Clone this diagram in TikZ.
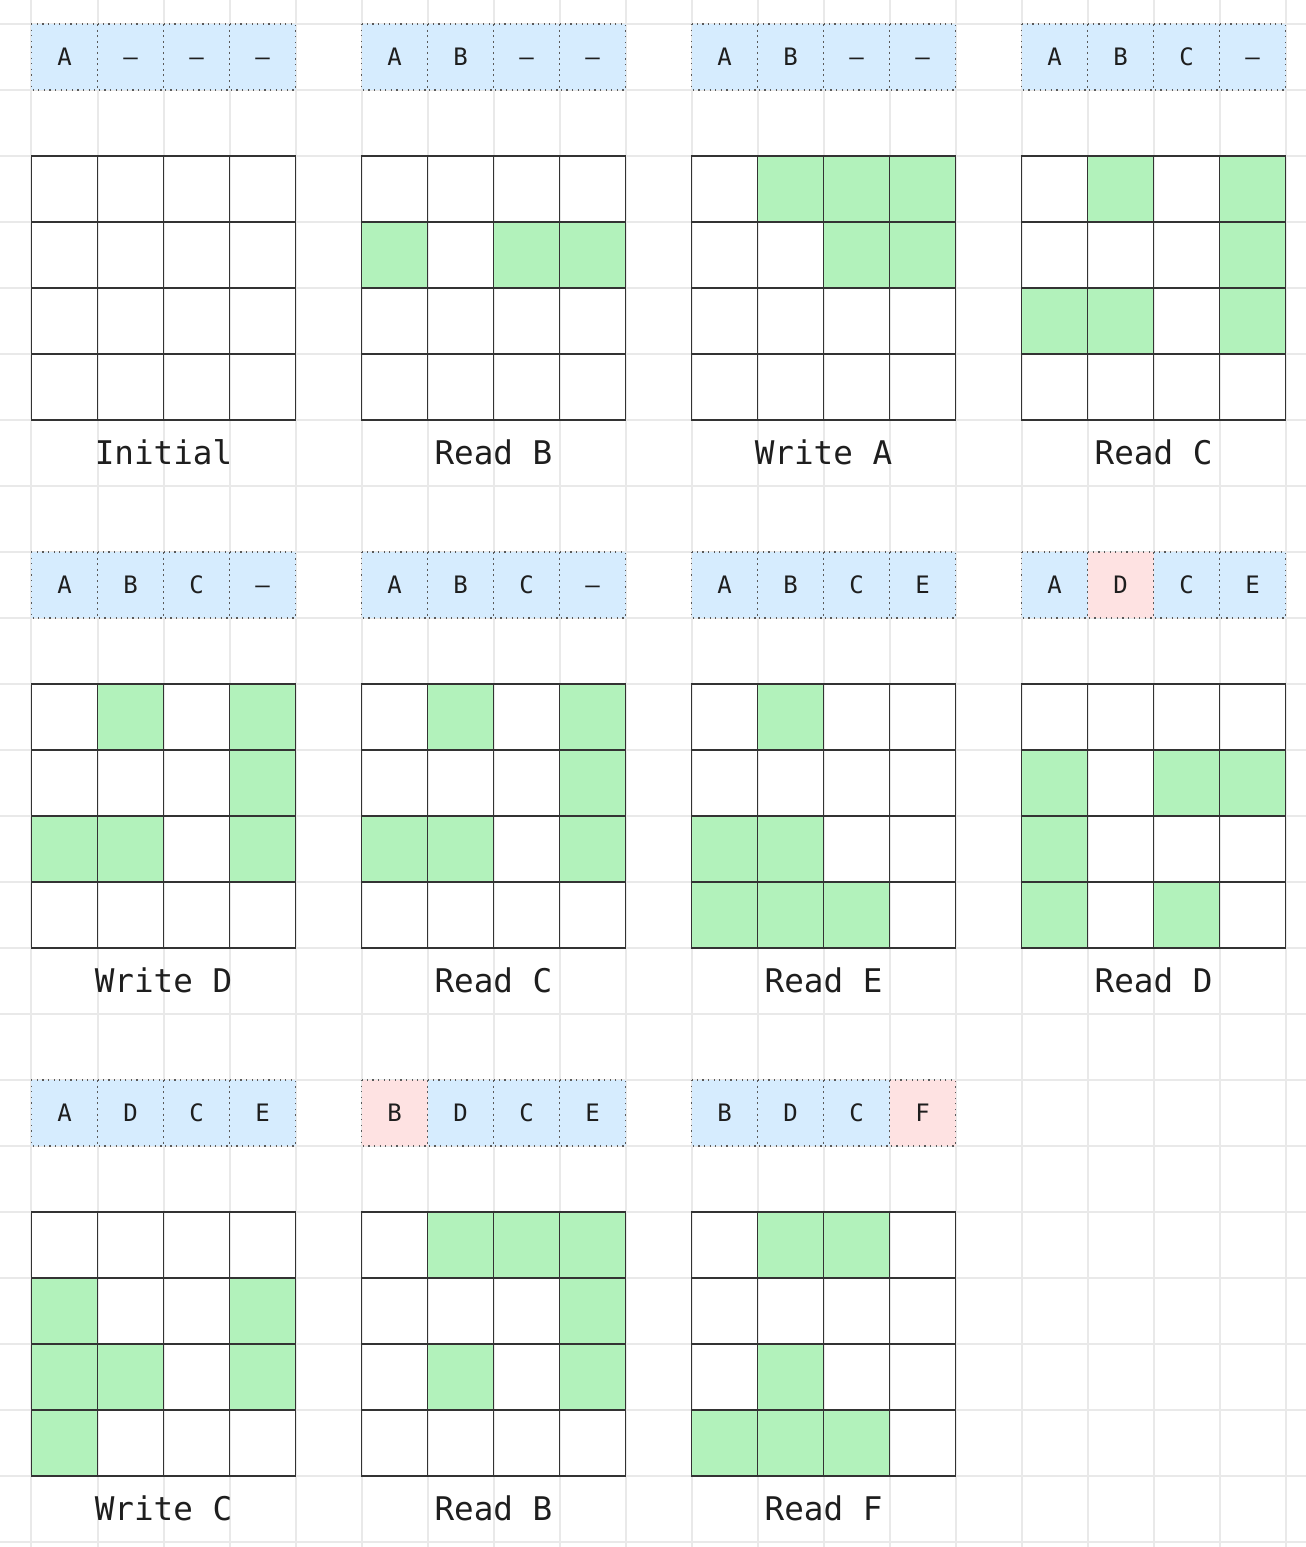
\documentclass[tikz,border=0pt]{standalone}
\usepackage{fontspec}
\setmonofont{DejaVu Sans Mono}
\definecolor{bgline}{HTML}{E9E9E9}
\definecolor{cellgreen}{HTML}{B2F2BB}
\definecolor{cacheblue}{HTML}{D6ECFE}
\definecolor{cachered}{HTML}{FEE2E2}
\definecolor{gridline}{HTML}{333333}
\definecolor{dotline}{HTML}{5A5A5A}
\definecolor{txt}{HTML}{1E1E1E}
\tikzset{
  bgstroke/.style={draw=bgline, line width=1pt},
  gridstroke/.style={draw=gridline, line width=0.8pt, line cap=rect},
  cachecell/.style={draw=dotline, line width=0.6pt, dash pattern=on 0.6pt off 2.2pt},
  b/.style={fill=cacheblue},
  r/.style={fill=cachered},
  cachetext/.style={font=\fontsize{12pt}{14pt}\ttfamily, text=txt, anchor=base, inner sep=0pt},
  labeltext/.style={font=\fontsize{16.3pt}{19pt}\ttfamily, text=txt, anchor=base, inner sep=0pt},
}
% #1 col, #2 row, #3 id, #4 label, #5 cache list letter/style
\newcommand\drawpanel[5]{%
  \pgfmathsetmacro\pX{5*#1}%
  \pgfmathsetmacro\pY{8*#2}%
  \foreach \k in {0,...,4}{
    \draw[gridstroke] (\pX+\k,\pY+2) -- (\pX+\k,\pY+6);
    \draw[gridstroke] (\pX,\pY+2+\k) -- (\pX+4,\pY+2+\k);
  }
  \foreach \ltr/\sty [count=\i from 0] in {#5}{
    \path[\sty] (\pX+\i,\pY) rectangle (\pX+\i+1,\pY+1);
    \draw[cachecell] (\pX+\i,\pY) rectangle (\pX+\i+1,\pY+1);
    \node[cachetext] (p#3c\i) at (\pX+\i+0.5,\pY+0.636) {\ltr};
  }
  \node[labeltext] (p#3label) at (\pX+2,\pY+6.68) {#4};
}
% #1 col, #2 row, #3 list c/r
\newcommand\greens[3]{%
  \pgfmathsetmacro\gX{5*#1}%
  \pgfmathsetmacro\gY{8*#2}%
  \foreach \c/\r in {#3}{
    \fill[cellgreen] (\gX+\c,\gY+2+\r) rectangle (\gX+\c+1,\gY+3+\r);
  }
}
\begin{document}
\begin{tikzpicture}[x=33pt,y=-33pt]
\useasboundingbox (-0.47727,-0.36364) rectangle (19.31061,23.07576);
\fill[white] (-0.47727,-0.36364) rectangle (19.31061,23.07576);
\foreach \k in {0,...,19}{
  \draw[bgstroke] (\k,-0.36364) -- (\k,23.07576);
}
\foreach \k in {0,...,23}{
  \draw[bgstroke] (-0.47727,\k) -- (19.31061,\k);
}
% greens
\greens{1}{0}{0/1,2/1,3/1}
\greens{2}{0}{1/0,2/0,3/0,2/1,3/1}
\greens{3}{0}{1/0,3/0,3/1,0/2,1/2,3/2}
\greens{0}{1}{1/0,3/0,3/1,0/2,1/2,3/2}
\greens{1}{1}{1/0,3/0,3/1,0/2,1/2,3/2}
\greens{2}{1}{1/0,0/2,1/2,0/3,1/3,2/3}
\greens{3}{1}{0/1,2/1,3/1,0/2,0/3,2/3}
\greens{0}{2}{0/1,3/1,0/2,1/2,3/2,0/3}
\greens{1}{2}{1/0,2/0,3/0,3/1,1/2,3/2}
\greens{2}{2}{1/0,2/0,1/2,0/3,1/3,2/3}
% panels
\drawpanel{0}{0}{a}{Initial}{A/b,–/b,–/b,–/b}
\drawpanel{1}{0}{b}{Read B}{A/b,B/b,–/b,–/b}
\drawpanel{2}{0}{c}{Write A}{A/b,B/b,–/b,–/b}
\drawpanel{3}{0}{d}{Read C}{A/b,B/b,C/b,–/b}
\drawpanel{0}{1}{e}{Write D}{A/b,B/b,C/b,–/b}
\drawpanel{1}{1}{f}{Read C}{A/b,B/b,C/b,–/b}
\drawpanel{2}{1}{g}{Read E}{A/b,B/b,C/b,E/b}
\drawpanel{3}{1}{h}{Read D}{A/b,D/r,C/b,E/b}
\drawpanel{0}{2}{i}{Write C}{A/b,D/b,C/b,E/b}
\drawpanel{1}{2}{j}{Read B}{B/r,D/b,C/b,E/b}
\drawpanel{2}{2}{k}{Read F}{B/b,D/b,C/b,F/r}
\end{tikzpicture}
\end{document}
